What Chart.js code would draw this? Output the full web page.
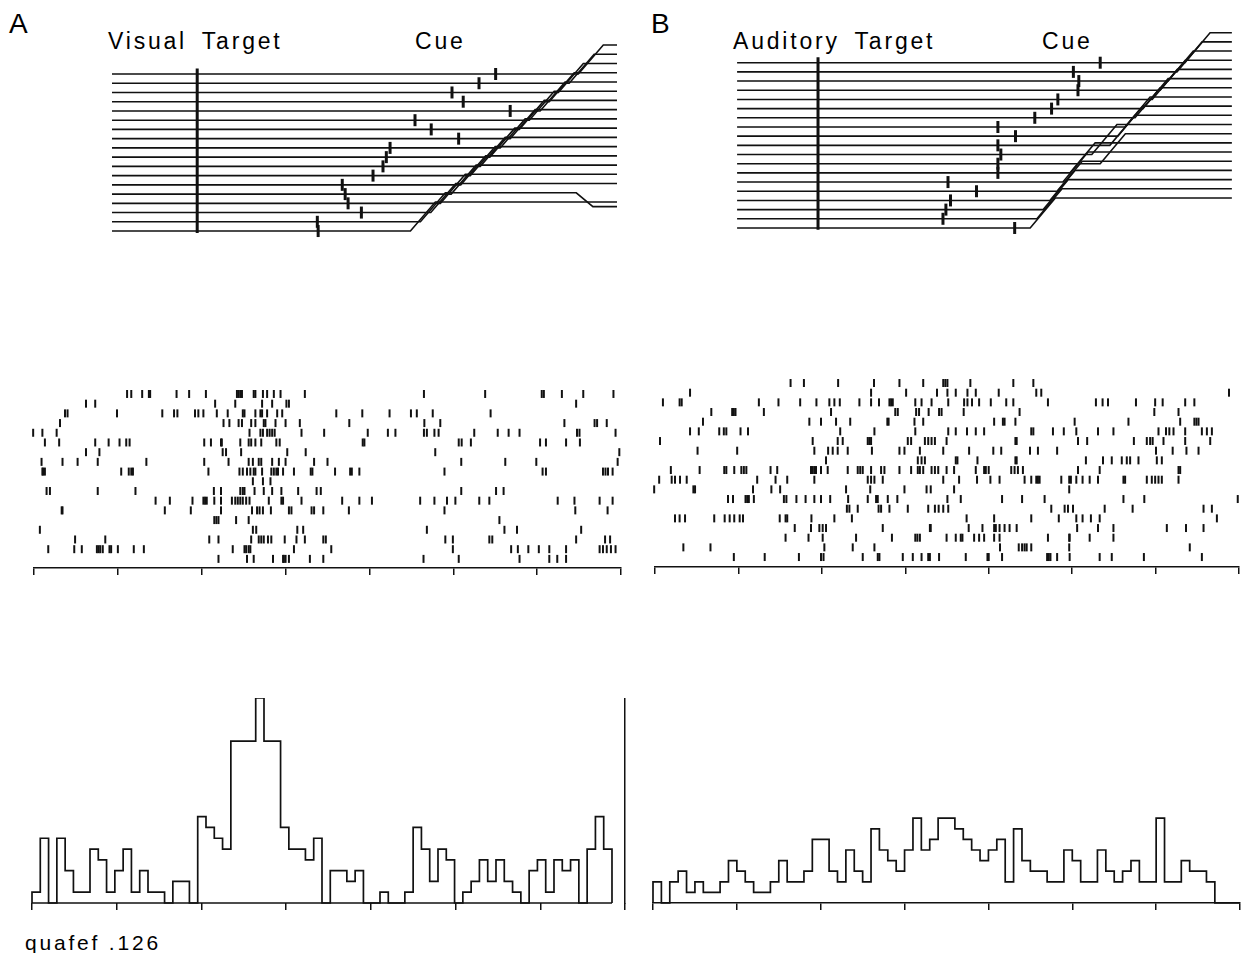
<!DOCTYPE html>
<html>
<head>
<meta charset="utf-8">
<script src="https://cdn.jsdelivr.net/npm/chart.js@4.4.1/dist/chart.umd.min.js"></script>
<style>
  body { margin: 0; background: #fff; width: 1248px; height: 953px; position: relative; overflow: hidden;
         font-family: "Liberation Sans", Arial, sans-serif; color: #000; }
  canvas { position: absolute; }
  .lbl { position: absolute; white-space: pre; line-height: 1; }
  .head { font-size: 23px; letter-spacing: 2.8px; word-spacing: 6px; top: 30px; }
</style>
</head>
<body>
<div class="lbl" style="left:9px;top:10px;font-size:28px">A</div>
<div class="lbl" style="left:651px;top:10px;font-size:28px">B</div>
<div class="lbl head" style="left:108px">Visual Target</div>
<div class="lbl head" style="left:415px">Cue</div>
<div class="lbl head" style="left:733px">Auditory Target</div>
<div class="lbl head" style="left:1042px">Cue</div>
<div class="lbl" style="left:25px;top:932px;font-size:21px;letter-spacing:2.8px">quafef .126</div>

<canvas id="eyeA"></canvas>
<canvas id="eyeB"></canvas>
<canvas id="rasA"></canvas>
<canvas id="rasB"></canvas>
<canvas id="histA"></canvas>
<canvas id="histB"></canvas>

<script>
// times are ms relative to target onset, rows counted from the top trial

// eye position traces: saccade onset and cue time per trial
const sacA = [917, 895, 869, 847, 825, 799, 775, 753, 729, 704, 681, 657, 634, 611, 585, 562, 537, 513];
const cueA = [718, 678, 613, 640, 753, 524, 563, 629, 464, 455, 447, 423, 349, 356, 363, 395, 289, 291];
const sacB = [875, 856, 835, 816, 797, 775, 756, 732, 715, 696, 653, 673, 601, 584, 570, 553, 537, 522, 506];
const cueB = [673, 609, 622, 620, 572, 557, 517, 429, 471, 429, 436, 429, 429, 310, 378, 316, 305, 298, 469];
const ampA = 3.14;   // saccade size in trace rows
const ampB = 3.27;
const backA = { row: 16, at: 912, drop: 1.5 };   // late return movement

// spike rasters, one array per trial
const rasterA = [
  [-178, -168, -142, -126, -123, -60, -30, 10, 84, 88, 92, 96, 124, 128, 146, 156, 172, 188, 246, 530, 676, 811, 816, 859, 910, 982],
  [-276, -254, 32, 80, 144, 168, 202, 208, 893],
  [-326, -320, -202, -94, -66, -58, -16, -8, 4, 36, 62, 98, 102, 128, 140, 144, 156, 180, 192, 321, 383, 448, 499, 513, 551, 689],
  [-338, 52, 66, 88, 96, 118, 128, 148, 152, 176, 200, 234, 352, 531, 569, 865, 937, 943, 966],
  [-402, -380, -346, 114, 140, 146, 156, 162, 168, 174, 238, 292, 396, 444, 462, 530, 537, 555, 565, 650, 706, 732, 758, 895, 901, 987],
  [-374, -340, -254, -222, -196, -180, -172, 6, 22, 46, 48, 92, 112, 118, 128, 142, 178, 186, 384, 388, 613, 620, 642, 807, 821, 869, 902],
  [-276, -244, 50, 58, 94, 204, 248, 557, 996],
  [-382, -332, -296, -248, -132, 6, 64, 112, 122, 136, 142, 168, 184, 200, 268, 300, 619, 724, 798, 992],
  [-380, -378, -374, -192, -174, -168, -164, 16, 90, 98, 108, 116, 124, 128, 144, 166, 172, 178, 182, 194, 220, 260, 264, 318, 354, 358, 376, 579, 813, 821, 957, 963, 969, 980],
  [122, 146, 164],
  [-370, -362, -248, -158, 29, 46, 92, 98, 102, 126, 148, 168, 190, 230, 274, 284, 619, 702, 720],
  [-110, -76, -22, 4, 8, 12, 30, 46, 72, 80, 86, 92, 98, 106, 114, 160, 190, 194, 238, 335, 376, 406, 521, 555, 585, 605, 662, 686, 849, 889, 949, 980],
  [-334, -332, -88, -26, 46, 120, 132, 138, 146, 165, 208, 214, 262, 268, 290, 351, 579, 891, 968],
  [30, 35, 40, 82, 112, 710],
  [-386, 122, 130, 228, 242, 537, 722, 752, 905],
  [-302, -230, 18, 40, 118, 136, 142, 148, 158, 166, 198, 226, 246, 290, 296, 581, 599, 686, 693, 893, 962, 974],
  [-366, -304, -286, -250, -246, -242, -236, -220, -216, -200, -162, -138, 74, 102, 106, 112, 116, 220, 309, 599, 738, 754, 779, 804, 829, 869, 949, 957, 966, 976, 987],
  [40, 108, 124, 170, 194, 196, 200, 208, 258, 290, 529, 613, 758, 829, 848, 869]
];
const rasterB = [
  [-75, -43, 39, 125, 186, 243, 291, 296, 301, 356, 459, 507],
  [-316, 118, 202, 276, 301, 321, 349, 369, 424, 514, 526, 976],
  [-381, -341, -336, -151, -104, -52, -13, 18, 30, 43, 90, 118, 137, 162, 166, 170, 224, 239, 263, 303, 341, 349, 360, 377, 405, 442, 459, 542, 657, 673, 686, 753, 799, 817, 871, 893],
  [-265, -215, -211, -207, -139, 22, 176, 182, 226, 233, 256, 281, 287, 340, 474, 797, 855],
  [-285, -30, -2, 34, 68, 157, 160, 222, 243, 413, 434, 438, 464, 606, 735, 859, 893, 898, 903],
  [-316, -295, -246, -235, -229, -195, -177, 44, 126, 224, 303, 321, 348, 369, 389, 502, 507, 554, 580, 610, 662, 699, 807, 825, 833, 843, 871, 911, 923, 935],
  [-388, -22, 38, 50, 110, 114, 118, 206, 214, 247, 255, 263, 271, 299, 464, 467, 614, 636, 748, 779, 787, 793, 819, 871, 931],
  [-298, -203, -18, 15, 26, 38, 62, 120, 186, 198, 235, 291, 353, 411, 430, 499, 518, 564, 801, 841, 874, 903],
  [10, 230, 239, 247, 321, 325, 373, 464, 467, 633, 674, 695, 719, 731, 739, 759, 803, 815],
  [-362, -293, -234, -229, -210, -193, -187, -181, -123, -107, -26, -22, -18, -14, -2, 14, 62, 86, 92, 98, 118, 142, 150, 186, 214, 230, 235, 243, 263, 271, 279, 299, 317, 369, 389, 393, 400, 454, 462, 470, 482, 614, 666, 855, 859],
  [-390, -360, -352, -340, -324, -155, -111, -83, -18, 110, 118, 126, 146, 291, 329, 372, 404, 426, 486, 502, 514, 518, 522, 574, 593, 597, 610, 625, 642, 662, 723, 727, 779, 791, 799, 807, 815, 855],
  [-402, -308, -304, -165, -121, -100, 58, 116, 198, 251, 261, 317, 593],
  [-225, -213, -183, -179, -175, -163, -91, -85, -61, -39, -18, -2, 20, 63, 110, 130, 134, 158, 181, 301, 333, 432, 480, 534, 723, 773, 997],
  [60, 66, 86, 136, 142, 162, 206, 255, 271, 280, 291, 303, 550, 582, 590, 602, 678, 745, 915, 935],
  [-352, -341, -328, -258, -233, -221, -210, -197, -189, -101, -87, -83, -25, 30, 72, 347, 413, 502, 568, 610, 625, 645, 666, 947],
  [-65, -26, -6, 2, 10, 146, 259, 261, 352, 385, 413, 417, 426, 438, 450, 467, 612, 662, 699, 827, 873, 915],
  [-87, -32, 2, 82, 168, 224, 229, 235, 299, 321, 333, 337, 365, 377, 389, 413, 426, 542, 593, 594, 642, 699],
  [-332, -267, 6, 74, 126, 427, 472, 480, 486, 491, 502, 593, 882],
  [-211, -137, -55, -2, 4, 98, 134, 138, 194, 218, 239, 255, 259, 281, 345, 397, 400, 432, 540, 544, 548, 564, 594, 666, 695, 772, 911]
];

// peri-stimulus histograms, 20 ms bins from -400 ms
const BIN_MS = 20;
const histA = [1, 6, 0, 6, 3, 1, 1, 5, 4, 1, 3, 5, 1, 3, 1, 1, 0, 2, 2, 0,
               8, 7, 6, 5, 15, 15, 15, 19, 15, 15, 7, 5, 5, 4, 6, 0, 3, 3, 2, 3,
               0, 0, 1, 0, 0, 1, 7, 5, 2, 5, 4, 0, 1, 2, 4, 2, 4, 2, 1, 0,
               3, 4, 1, 4, 3, 4, 0, 5, 8, 5];
const histB = [2, 0, 2, 3, 1, 2, 1, 1, 2, 4, 3, 2, 1, 1, 2, 4, 2, 2, 3, 6,
               6, 3, 2, 5, 3, 2, 7, 5, 4, 3, 5, 8, 5, 6, 8, 8, 7, 6, 5, 4,
               5, 6, 2, 7, 4, 3, 3, 2, 2, 5, 4, 2, 2, 5, 3, 2, 3, 4, 2, 2,
               8, 2, 2, 4, 3, 3, 2, 0, 0, 0];

const SAC_MS = 60;
const INK = '#111';

const base = {
  responsive: false,
  animation: false,
  devicePixelRatio: 1,
  events: [],
  plugins: { legend: { display: false }, tooltip: { enabled: false } }
};

function place(id, left, top, w, h) {
  const c = document.getElementById(id);
  c.width = w;
  c.height = h;
  c.style.left = left + 'px';
  c.style.top = top + 'px';
  return c;
}

// chart area fills the canvas apart from explicit padding
function layout(l, r) {
  return { autoPadding: false, padding: { left: l, right: r, top: 0, bottom: 0 } };
}

function timeAxis(max, border) {
  return {
    type: 'linear', min: -400, max: max, bounds: 'data',
    ticks: { display: false, stepSize: 200, includeBounds: false },
    grid: { drawOnChartArea: false, drawTicks: true, tickLength: 7, color: INK, lineWidth: 1.5 },
    border: { display: border, color: INK, width: 1.5 }
  };
}

function tracePoints(row, sac, amp, from, to, back) {
  const top = row - amp;
  const pts = [{ x: from, y: row }, { x: sac, y: row }, { x: sac + SAC_MS, y: top }];
  if (back && back.row === row) {
    pts.push({ x: back.at, y: top }, { x: back.at + 40, y: top + back.drop }, { x: to, y: top + back.drop });
  } else {
    pts.push({ x: to, y: top });
  }
  return pts;
}

function eyeChart(id, box, sacs, cues, amp, from, to, xr, yr, back) {
  const datasets = sacs.map((s, i) => ({
    data: tracePoints(i, s, amp, from, to, back),
    showLine: true, borderColor: INK, borderWidth: 1.6, pointRadius: 0, clip: false
  }));
  // cue markers
  datasets.push({
    data: cues.map((c, i) => ({ x: c, y: i })),
    showLine: false, pointStyle: 'line', pointRotation: 90, pointRadius: 6,
    pointBorderWidth: 3, pointBorderColor: INK, clip: false
  });
  // target onset
  datasets.push({
    data: [{ x: 0, y: -0.6 }, { x: 0, y: sacs.length - 0.8 }],
    showLine: true, borderColor: INK, borderWidth: 3, pointRadius: 0, clip: false
  });
  return new Chart(place(id, ...box), {
    type: 'scatter',
    data: { datasets },
    options: { ...base, layout: layout(0, 0), scales: {
      x: { type: 'linear', display: false, bounds: 'data', min: xr[0], max: xr[1] },
      y: { display: false, bounds: 'data', reverse: true, min: yr[0], max: yr[1] }
    } }
  });
}

function rasterChart(id, box, rows, yr) {
  const spikes = [];
  rows.forEach((r, i) => r.forEach(t => spikes.push({ x: t, y: i })));
  return new Chart(place(id, ...box), {
    type: 'scatter',
    data: { datasets: [{
      data: spikes, pointStyle: 'line', pointRotation: 90, pointRadius: 4,
      pointBorderWidth: 2, pointBorderColor: INK, clip: false
    }] },
    options: { ...base, layout: layout(2, 2), scales: {
      x: timeAxis(1000, true),
      y: { display: false, bounds: 'data', reverse: true, min: yr[0], max: yr[1] }
    } }
  });
}

function histPoints(counts) {
  const end = -400 + counts.length * BIN_MS;
  const pts = [{ x: -400, y: 0 }];
  counts.forEach((c, i) => pts.push({ x: -400 + i * BIN_MS, y: c }));
  pts.push({ x: end, y: counts[counts.length - 1] }, { x: end, y: 0 });
  return pts;
}

function histChart(id, box, counts, yMax, xMax, withBar) {
  // 'before' holds each bin's count across the bin, then steps
  const datasets = [{
    data: histPoints(counts), stepped: 'before', borderColor: INK, borderWidth: 1.7,
    pointRadius: 0, fill: false, clip: false
  }];
  const scales = {
    x: timeAxis(xMax, !withBar),
    y: { display: false, bounds: 'data', min: 0, max: yMax }
  };
  if (withBar) {
    // baseline stops at the last bin, the scale bar sits on the right edge
    datasets.push({
      data: [{ x: -400, y: 0 }, { x: 1000, y: 0 }],
      borderColor: INK, borderWidth: 1.5, pointRadius: 0, clip: false
    });
    scales.bar = {
      position: 'right', display: true, bounds: 'data', min: 0, max: yMax,
      ticks: { display: false }, grid: { display: false, drawTicks: false },
      border: { display: true, color: INK, width: 1.5 }
    };
  }
  return new Chart(place(id, ...box), {
    type: 'line',
    data: { datasets },
    options: { ...base, layout: layout(2, 2), scales }
  });
}

eyeChart('eyeA', [110, 40, 510, 200], sacA, cueA, ampA, -205, 1010, [-209.8, 1017.2], [-3.68, 17.97], backA);
eyeChart('eyeB', [735, 28, 505, 212], sacB, cueB, ampB, -193, 987, [-198, 1006.4], [-3.78, 19.31], null);

rasterChart('rasA', [32, 380, 591, 195], rasterA, [-1.44, 17.94]);
rasterChart('rasB', [653, 375, 588, 199], rasterB, [-0.83, 19.03]);

histChart('histA', [30, 698, 597, 212], histA, 19.0, 1031.4, true);
histChart('histB', [651, 802, 591, 108], histB, 9.53, 1000, false);
</script>
</body>
</html>
